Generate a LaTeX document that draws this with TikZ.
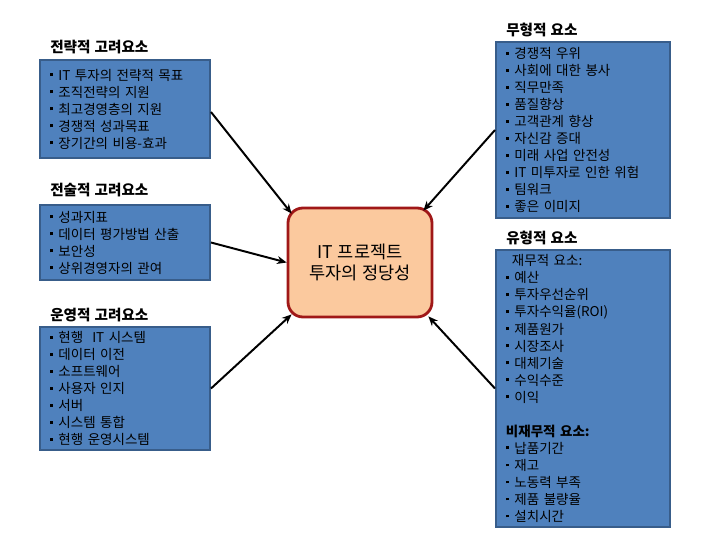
\documentclass[tikz,border=0pt]{standalone}
\usepackage{fontspec}
\setmainfont{Noto Sans CJK KR}[WordSpace=1.2]
\usetikzlibrary{arrows.meta}
\definecolor{boxfill}{HTML}{4F81BD}
\definecolor{boxedge}{HTML}{385D8A}
\definecolor{hubfill}{HTML}{FBC99E}
\definecolor{hubedge}{HTML}{A01818}
\tikzset{
	factorbox/.style={draw=boxedge, fill=boxfill, line width=1.4pt, inner xsep=2.5mm, inner ysep=0pt,
		align=left, text width=#1, font=\fontsize{9.6}{12.1}\selectfont},
	factorbox/.default=37.5mm
}
\tikzset{
	boxtitle/.style={anchor=west, inner sep=0pt, font=\bfseries\fontsize{10.4}{12}\selectfont}
}
\tikzset{
	conn/.style={-{Stealth[length=2.4mm,width=2mm]}, line width=1.4pt}
}
\newcommand{\itm}{\rule[0.28em]{2pt}{2pt}\hspace{4pt}}

\begin{document}
\begin{tikzpicture}[x=0.25mm, y=-0.25mm]
      \useasboundingbox (0,0) rectangle (720,540);
      % left side: three groups of considerations
      \node[boxtitle] (strattitle) at (50,47) {전략적 고려요소};
      \node[factorbox, minimum height=24.5mm] (strat) at (125,109)
        {\itm IT 투자의 전략적 목표\\ \itm 조직전략의 지원\\ \itm 최고경영층의 지원\\ \itm 경쟁적 성과목표\\ \itm 장기간의 비용-효과};
      \node[boxtitle] (tacttitle) at (50,190) {전술적 고려요소};
      \node[factorbox, minimum height=18.75mm] (tact) at (125,242.5)
        {\itm 성과지표\\ \itm 데이터 평가방법 산출\\ \itm 보안성\\ \itm 상위경영자의 관여};
      \node[boxtitle] (opertitle) at (50,315) {운영적 고려요소};
      \node[factorbox, minimum height=30.75mm] (oper) at (125,388.5)
        {\itm 현행 \ IT 시스템\\ \itm 데이터 이전\\ \itm 소프트웨어\\ \itm 사용자 인지\\ \itm 서버\\ \itm 시스템 통합\\ \itm 현행 운영시스템};
      % right side: intangible and tangible factors
      \node[boxtitle] (intantitle) at (506,30) {무형적 요소};
      \node[factorbox=38.5mm, minimum height=44mm] (intan) at (583,130)
        {\itm 경쟁적 우위\\ \itm 사회에 대한 봉사\\ \itm 직무만족\\ \itm 품질향상\\ \itm 고객관계 향상\\ \itm 자신감 증대\\ \itm 미래 사업 안전성\\ \itm IT 미투자로 인한 위험\\ \itm 팀워크\\ \itm 좋은 이미지};
      \node[boxtitle] (tantitle) at (506,238) {유형적 요소};
      \node[factorbox=38.5mm, minimum height=69.25mm] (tan) at (583,388.5)
        {\hspace*{1.5mm}재무적 요소:\\ \itm 예산\\ \itm 투자우선순위\\ \itm 투자수익율(ROI)\\ \itm 제품원가\\ \itm 시장조사\\ \itm 대체기술\\ \itm 수익수준\\ \itm 이익\\[12.1pt]
         \textbf{비재무적 요소:}\\ \itm 납품기간\\ \itm 재고\\ \itm 노동력 부족\\ \itm 제품 불량율\\ \itm 설치시간};
      % centre
      \node[draw=hubedge, fill=hubfill, line width=2pt, rounded corners=3.75mm, minimum width=36mm, minimum height=27.25mm,
        align=center, font=\fontsize{12.5}{14.6}\selectfont] (hub) at (360,262.5) {IT 프로젝트\\투자의 정당성};
      \draw[conn] ([yshift=-0.75mm]strat.east) -- ([xshift=1.25mm,yshift=-1.75mm]hub.north west);
      \draw[conn] (tact.east) -- (hub.west);
      \draw[conn] (oper.east) -- ([xshift=1.25mm,yshift=1mm]hub.south west);
      \draw[conn] (intan.west) -- ([xshift=-2.5mm,yshift=-1mm]hub.north east);
      \draw[conn] (tan.west) -- ([xshift=-1.25mm,yshift=0.5mm]hub.south east);
    \end{tikzpicture}
\end{document}
